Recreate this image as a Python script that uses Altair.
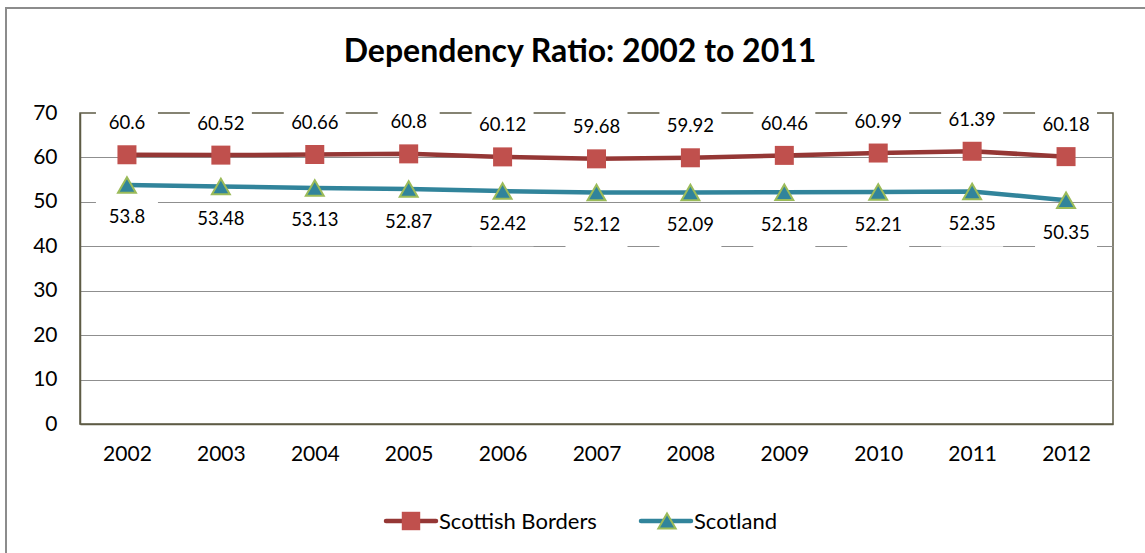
import altair as alt
import pandas as pd

years = ["2002", "2003", "2004", "2005", "2006", "2007", "2008", "2009", "2010", "2011", "2012"]
borders = [60.6, 60.52, 60.66, 60.8, 60.12, 59.68, 59.92, 60.46, 60.99, 61.39, 60.18]
scotland = [53.8, 53.48, 53.13, 52.87, 52.42, 52.12, 52.09, 52.18, 52.21, 52.35, 50.35]
series_names = ["Scottish Borders", "Scotland"]
title_text = "Dependency Ratio: 2002 to 2011"

FONT = "Lato"
W, H = 1033, 311

rows = []
for name, vals in zip(series_names, [borders, scotland]):
    for y, v in zip(years, vals):
        rows.append({"year": y, "value": v, "series": name, "label": str(v)})
df = pd.DataFrame(rows)
df_b = df[df.series == series_names[0]]
df_s = df[df.series == series_names[1]]

x_enc = alt.X("year:N", sort=years, scale=alt.Scale(type="point", padding=0.5),
              axis=alt.Axis(title=None, labelAngle=0, labelFont=FONT, labelFontSize=21,
                            labelColor="#000000", labelPadding=19, ticks=False,
                            domainColor="#5e5b45", domainWidth=1.5, grid=False))
y_enc = alt.Y("value:Q", scale=alt.Scale(domain=[0, 70], nice=False, zero=True),
              axis=alt.Axis(title=None, values=list(range(0, 71, 10)), labelFont=FONT,
                            labelFontSize=21, labelColor="#000000", labelPadding=23,
                            ticks=False, domainColor="#5e5b45", domainWidth=1.5,
                            grid=True, gridWidth=1.2,
                            gridColor={"condition": {"test": "datum.value === 70 || datum.value === 0",
                                                     "value": "rgba(0,0,0,0)"},
                                       "value": "#8f8f8f"}))

base_b = alt.Chart(df_b).encode(x=x_enc, y=y_enc)
base_s = alt.Chart(df_s).encode(x=x_enc, y=y_enc)

box_shape = "M-1,-0.62H1V0.62H-1Z"
bg_b = base_b.mark_point(shape=box_shape, filled=True, fill="white", opacity=1,
                         strokeWidth=0, size=3844, yOffset=-28)
bg_s = base_s.mark_point(shape=box_shape, filled=True, fill="white", opacity=1,
                         strokeWidth=0, size=3844, yOffset=36)

line_b = base_b.mark_line(color="#953735", strokeWidth=4.5)
line_s = base_s.mark_line(color="#31849b", strokeWidth=4.5)
pt_b = base_b.mark_point(shape="square", filled=True, fill="#c0504d", opacity=1,
                         size=361, strokeWidth=0)
pt_s = base_s.mark_point(shape="triangle-up", filled=True, fill="#31849b", opacity=1,
                         size=320, stroke="#9bbb59", strokeWidth=2)
txt_b = base_b.mark_text(font=FONT, fontSize=18.5, color="#000000", dy=-31.5).encode(text="label:N")
txt_s = base_s.mark_text(font=FONT, fontSize=18.5, color="#000000", dy=32.5).encode(text="label:N")

# title
title = alt.Chart(pd.DataFrame({"t": [title_text]})).mark_text(
    font=FONT, fontSize=32, fontWeight="bold", color="#000000", baseline="alphabetic", align="center"
).encode(x=alt.value(500), y=alt.value(-51), text="t:N")

# legend
leg = pd.DataFrame({"series": series_names})
leg_line_b = alt.Chart(leg.iloc[[0]]).mark_rule(color="#953735", strokeWidth=4.5, strokeCap="round").encode(
    x=alt.value(306), x2=alt.value(356), y=alt.value(408))
leg_pt_b = alt.Chart(leg.iloc[[0]]).mark_point(shape="square", filled=True, fill="#c0504d", opacity=1,
                                              size=340, strokeWidth=0).encode(x=alt.value(331), y=alt.value(408))
leg_txt_b = alt.Chart(leg.iloc[[0]]).mark_text(font=FONT, fontSize=22, align="left", baseline="middle",
                                              color="#000000").encode(
    x=alt.value(359), y=alt.value(409), text="series:N")
leg_line_s = alt.Chart(leg.iloc[[1]]).mark_rule(color="#31849b", strokeWidth=4.5, strokeCap="round").encode(
    x=alt.value(561), x2=alt.value(611), y=alt.value(408))
leg_pt_s = alt.Chart(leg.iloc[[1]]).mark_point(shape="triangle-up", filled=True, fill="#31849b", opacity=1,
                                              size=300, stroke="#9bbb59", strokeWidth=2).encode(
    x=alt.value(587), y=alt.value(408))
leg_txt_s = alt.Chart(leg.iloc[[1]]).mark_text(font=FONT, fontSize=22, align="left", baseline="middle",
                                              color="#000000").encode(
    x=alt.value(614), y=alt.value(409), text="series:N")

# outer frame
frame_left = alt.Chart(leg.iloc[[0]]).mark_rule(color="#8c8c8c", strokeWidth=2).encode(
    x=alt.value(-74), y=alt.value(-105), y2=alt.value(460))
frame_top = alt.Chart(leg.iloc[[0]]).mark_rule(color="#8c8c8c", strokeWidth=2).encode(
    x=alt.value(-75), x2=alt.value(1080), y=alt.value(-105))

chart = alt.layer(
    bg_b, bg_s, line_b, line_s, pt_b, pt_s, txt_b, txt_s, title,
    leg_line_b, leg_pt_b, leg_txt_b, leg_line_s, leg_pt_s, leg_txt_s,
    frame_left, frame_top
).properties(
    width=W, height=H,
    autosize=alt.AutoSizeParams(type="none"),
    padding={"left": 80, "top": 113, "right": 32, "bottom": 129},
    background="white"
).configure_view(
    stroke="#5e5b45", strokeWidth=1.5
)

chart.save("out.html", embed_options={"renderer": "svg", "actions": False})
